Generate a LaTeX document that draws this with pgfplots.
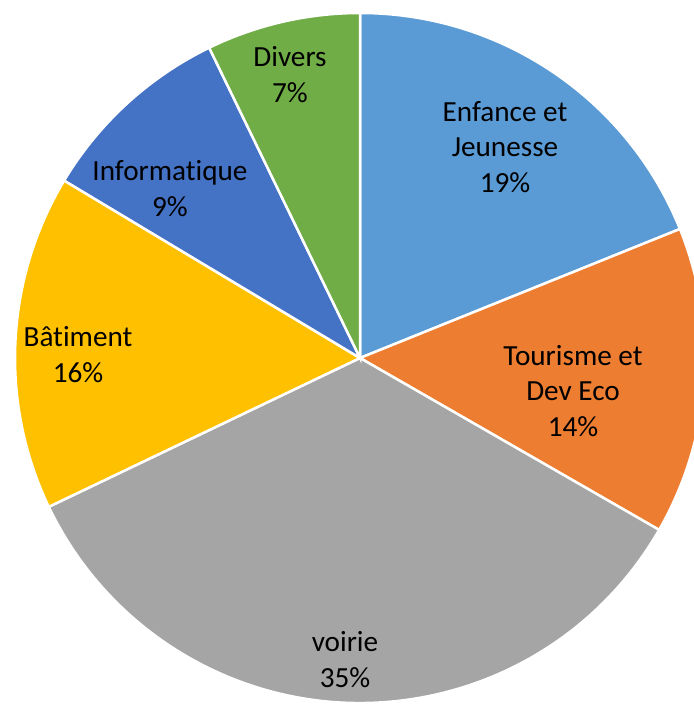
\documentclass[border=0pt]{standalone}
\usepackage{pgfplots}
\pgfplotsset{compat=1.18}
\usepackage{fontspec}
\setmainfont{Carlito}[Ligatures=NoCommon]
\definecolor{cEnf}{HTML}{5B9BD5}
\definecolor{cTou}{HTML}{ED7D31}
\definecolor{cVoi}{HTML}{A5A5A5}
\definecolor{cBat}{HTML}{FFC000}
\definecolor{cInf}{HTML}{4472C4}
\definecolor{cDiv}{HTML}{70AD47}
\begin{document}
\begin{tikzpicture}
% slice values (percent), clockwise from 12 o'clock
\def\vEnf{18.9}\def\vTou{14.4}\def\vVoi{34.6}\def\vBat{15.7}\def\vInf{9.2}\def\vDiv{7.2}
\pgfmathsetmacro\aA{90}
\pgfmathsetmacro\aB{\aA-3.6*\vEnf}
\pgfmathsetmacro\aC{\aB-3.6*\vTou}
\pgfmathsetmacro\aD{\aC-3.6*\vVoi}
\pgfmathsetmacro\aE{\aD-3.6*\vBat}
\pgfmathsetmacro\aF{\aE-3.6*\vInf}
\pgfmathsetmacro\aG{\aF-3.6*\vDiv}
\pgfmathtruncatemacro\pEnf{round(\vEnf)}
\pgfmathtruncatemacro\pTou{round(\vTou)}
\pgfmathtruncatemacro\pVoi{round(\vVoi)}
\pgfmathtruncatemacro\pBat{round(\vBat)}
\pgfmathtruncatemacro\pInf{round(\vInf)}
\pgfmathtruncatemacro\pDiv{round(\vDiv)}
\begin{axis}[hide axis, scale only axis, x=1bp, y=1bp,
  xmin=0, xmax=694, ymin=0, ymax=704, clip=true]
\fill[cEnf, draw=white, line width=2.5bp] (axis cs:360,346) -- ++(\aA:345bp) arc[start angle=\aA, end angle=\aB, radius=345bp] -- cycle;
\fill[cTou, draw=white, line width=2.5bp] (axis cs:360,346) -- ++(\aB:345bp) arc[start angle=\aB, end angle=\aC, radius=345bp] -- cycle;
\fill[cVoi, draw=white, line width=2.5bp] (axis cs:360,346) -- ++(\aC:345bp) arc[start angle=\aC, end angle=\aD, radius=345bp] -- cycle;
\fill[cBat, draw=white, line width=2.5bp] (axis cs:360,346) -- ++(\aD:345bp) arc[start angle=\aD, end angle=\aE, radius=345bp] -- cycle;
\fill[cInf, draw=white, line width=2.5bp] (axis cs:360,346) -- ++(\aE:345bp) arc[start angle=\aE, end angle=\aF, radius=345bp] -- cycle;
\fill[cDiv, draw=white, line width=2.5bp] (axis cs:360,346) -- ++(\aF:345bp) arc[start angle=\aF, end angle=\aG, radius=345bp] -- cycle;
\tikzset{lbl/.style={align=center, text=black, inner sep=0pt, font=\fontsize{29.3}{36}\selectfont}}
\node[lbl] at (axis cs:505,557) {Enfance et\\Jeunesse\\\pEnf\%};
\node[lbl] at (axis cs:573,313) {Tourisme et\\Dev Eco\\\pTou\%};
\node[lbl] at (axis cs:345,44) {voirie\\\pVoi\%};
\node[lbl] at (axis cs:78,349) {Bâtiment\\\pBat\%};
\node[lbl] at (axis cs:170,515) {Informatique\\\pInf\%};
\node[lbl] at (axis cs:290,629) {Divers\\\pDiv\%};
\end{axis}
\pgfresetboundingbox
\useasboundingbox (0,0) rectangle (694bp,704bp);
\end{tikzpicture}
\end{document}
